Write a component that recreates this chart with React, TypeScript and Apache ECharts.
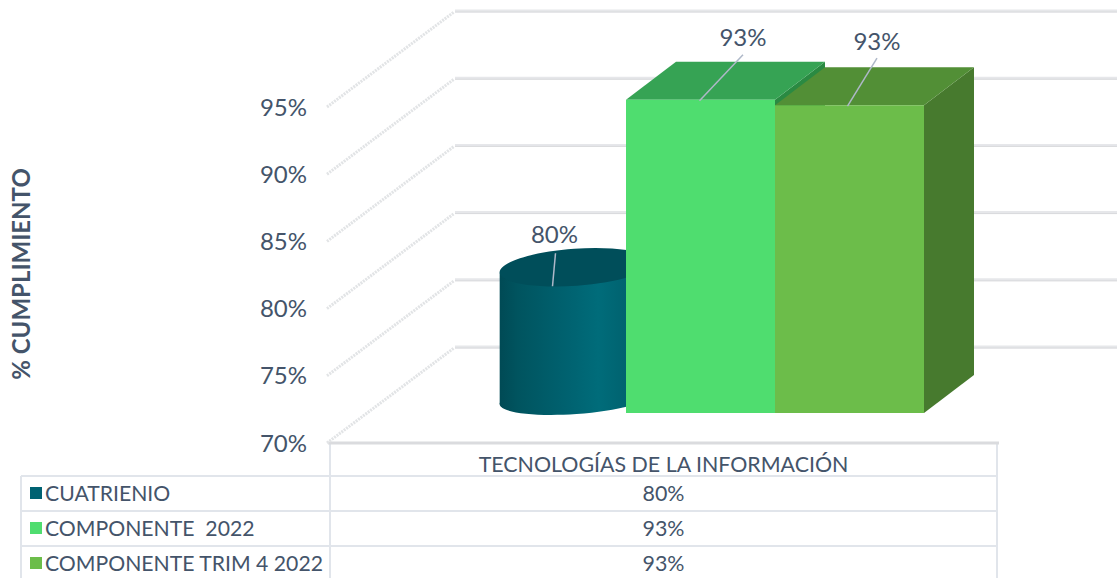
import React, { useEffect, useRef } from "react";
import * as echarts from "echarts";

const categories = ["TECNOLOGÍAS DE LA INFORMACIÓN"];
const seriesNames = ["CUATRIENIO", "COMPONENTE  2022", "COMPONENTE TRIM 4 2022"];
const cuatrienio = [79.8];
const componente2022 = [93.3];
const componenteTrim4 = [92.9];
const yTicks = [70, 75, 80, 85, 90, 95];

const TEXT = "#44546A";
const FONT = "Lato";
const LEGEND_COLORS = ["#006272", "#4FDD6F", "#6CBD4A"];
const W = 1117;
const H = 578;

// 3D projection constants (px)
const WALL_DX = 125;
const WALL_DY = -95;
const FRONT_DX = 37;
const FRONT_DY = -29;
const BOX_W = 149;
const BOX_DX = 50;
const BOX_DY = -38;

const pct = (v: number) => `${Math.round(v)}%`;

function label(text: string, ax: number, ay: number, lx: number, ly: number, topX: number, topY: number) {
  return [
    { type: "line", shape: { x1: topX, y1: topY, x2: ax, y2: ay }, style: { stroke: "#AEB8C8", lineWidth: 1.5 } },
    { type: "text", style: { text, x: lx, y: ly, align: "center", verticalAlign: "middle", fill: TEXT, fontSize: 24, fontFamily: FONT } },
  ];
}

const renderGrid = (_: any, api: any) => {
  const [, y] = api.coord([0, api.value(1)]);
  const bx = grid.left + WALL_DX;
  const by = y + WALL_DY;
  const x0 = grid.left - 3;
  return {
    type: "group",
    children: [
      { type: "line", shape: { x1: x0, y1: y + 1, x2: bx - 1, y2: by + 1 }, style: { stroke: "#E2E4E6", lineWidth: 3, lineDash: [2, 1] } },
      { type: "line", shape: { x1: bx, y1: by, x2: W, y2: by }, style: { stroke: "#E6E7EA", lineWidth: 3 } },
      { type: "line", shape: { x1: bx, y1: by + 1, x2: W, y2: by + 1 }, style: { stroke: "#D9DADD", lineWidth: 1 } },
    ],
  };
};

function boxRender(slot: number, front: string, top: string, side: string, lx: number, ly: number, endDx: number) {
  return (_: any, api: any) => {
    const v = api.value(1);
    const [cx, yTop] = api.coord([0, v]);
    const [, yBase] = api.coord([0, 70]);
    const x0 = cx + FRONT_DX + slot * BOX_W - BOX_W / 2;
    const x1 = x0 + BOX_W;
    const yt = yTop + FRONT_DY;
    const yb = yBase + FRONT_DY;
    const mid = (x0 + x1) / 2;
    return {
      type: "group",
      children: [
        { type: "polygon", shape: { points: [[x1, yt], [x1 + BOX_DX, yt + BOX_DY], [x1 + BOX_DX, yb + BOX_DY], [x1, yb]] }, style: { fill: side } },
        { type: "polygon", shape: { points: [[x0, yt], [x1, yt], [x1 + BOX_DX, yt + BOX_DY], [x0 + BOX_DX, yt + BOX_DY]] }, style: { fill: top } },
        { type: "rect", shape: { x: x0, y: yt, width: BOX_W, height: yb - yt }, style: { fill: front } },
        ...label(pct(v), mid + endDx, yt + 1, mid + lx, yt + ly, mid + lx, yt + ly + 18),
      ],
    };
  };
}

const renderCylinder = (_: any, api: any) => {
  const v = api.value(1);
  const [c, yTop] = api.coord([0, v]);
  const [, yBase] = api.coord([0, 70]);
  const cx = c - BOX_W + FRONT_DX + BOX_DX / 2 - 1;
  const yt = yTop - 43;
  const yb = yBase - 43;
  const rx = 76;
  const rot = 0.07;
  const sx = rx * Math.cos(rot);
  const sy = rx * Math.sin(rot);
  const grad = new echarts.graphic.LinearGradient(0, 0, 1, 0, [
    { offset: 0, color: "#004A55" },
    { offset: 0.12, color: "#00545F" },
    { offset: 0.45, color: "#006270" },
    { offset: 0.65, color: "#006C7A" },
    { offset: 1, color: "#005A66" },
  ]);
  return {
    type: "group",
    children: [
      { type: "ellipse", x: cx, y: yb, rotation: rot, shape: { cx: 0, cy: 0, rx, ry: 15 }, style: { fill: grad } },
      { type: "polygon", shape: { points: [[cx - sx, yt + sy], [cx + sx, yt - sy], [cx + sx, yb - sy], [cx - sx, yb + sy]] }, style: { fill: grad } },
      { type: "ellipse", x: cx, y: yt, rotation: rot, shape: { cx: 0, cy: 0, rx, ry: 18.5 }, style: { fill: "#004E5A" } },
      ...label(pct(v), cx - 23, yt + 19, cx - 21, yt - 34, cx - 20, yt - 14),
    ],
  };
};

const grid = { left: 330, top: 106, right: W - 997, bottom: H - 442 };

const TABLE = { left: 21, col: 330, right: 997, rows: [476, 511, 546], head: 443 };

function tableGraphics() {
  const line = "#E1E5EB";
  const values = [cuatrienio[0], componente2022[0], componenteTrim4[0]];
  const els: any[] = [];
  const add = (x1: number, y1: number, x2: number, y2: number) =>
    els.push({ type: "line", shape: { x1, y1, x2, y2 }, style: { stroke: line, lineWidth: 2 } });
  add(TABLE.col, TABLE.head, TABLE.col, H);
  add(TABLE.right, TABLE.head, TABLE.right, H);
  add(TABLE.left, TABLE.rows[0], TABLE.left, H);
  TABLE.rows.forEach((y) => add(TABLE.left, y, TABLE.right, y));
  els.push({ type: "line", shape: { x1: TABLE.col - 2, y1: TABLE.head, x2: TABLE.right + 2, y2: TABLE.head }, style: { stroke: "#DADBDE", lineWidth: 3 } });
  seriesNames.forEach((name, i) => {
    const r = TABLE.rows[i];
    els.push({ type: "rect", shape: { x: 30, y: r + 11, width: 12, height: 12 }, style: { fill: LEGEND_COLORS[i] } });
    els.push({ type: "text", style: { text: name, x: 45, y: r + 17, verticalAlign: "middle", fill: TEXT, fontSize: 21.2, fontFamily: FONT } });
    els.push({ type: "text", style: { text: pct(values[i]), x: (TABLE.col + TABLE.right) / 2, y: r + 17, align: "center", verticalAlign: "middle", fill: TEXT, fontSize: 21.4, fontFamily: FONT } });
  });
  return els;
}

export default function App() {
  const ref = useRef<HTMLDivElement>(null);
  useEffect(() => {
    document.body.style.margin = "0";
    const chart = echarts.init(ref.current!, null, { renderer: "svg" });
    chart.setOption({
      animation: false,
      backgroundColor: "#fff",
      grid,
      xAxis: {
        type: "category",
        data: categories,
        axisLine: { show: false },
        axisTick: { show: false },
        axisLabel: { color: TEXT, fontSize: 21.4, fontFamily: FONT, margin: 11 },
      },
      yAxis: {
        type: "value",
        min: 70,
        max: 95,
        interval: 5,
        name: "% CUMPLIMIENTO",
        nameLocation: "middle",
        nameGap: 298,
        nameRotate: 90,
        nameTextStyle: { color: TEXT, fontSize: 24, fontWeight: "bold", fontFamily: FONT },
        axisLine: { show: false },
        axisTick: { show: false },
        splitLine: { show: false },
        axisLabel: { color: TEXT, fontSize: 24, fontFamily: FONT, margin: 23, padding: [2, 0, 0, 0], formatter: "{value}%" },
      },
      graphic: tableGraphics(),
      series: [
        { type: "custom", name: "grid", silent: true, clip: false, z: 1, renderItem: renderGrid, encode: { x: 0, y: 1 }, data: yTicks.map((t) => [0, t]) },
        { type: "custom", name: seriesNames[0], clip: false, z: 2, renderItem: renderCylinder, encode: { x: 0, y: 1 }, data: cuatrienio.map((v, i) => [i, v]) },
        { type: "custom", name: seriesNames[1], clip: false, z: 3, renderItem: boxRender(0, "#4FDD6F", "#36A354", "#2A8A42", 42.5, -63, -1), encode: { x: 0, y: 1 }, data: componente2022.map((v, i) => [i, v]) },
        { type: "custom", name: seriesNames[2], clip: false, z: 4, renderItem: boxRender(1, "#6CBD4A", "#528F36", "#477A2E", 27.5, -65, -2), encode: { x: 0, y: 1 }, data: componenteTrim4.map((v, i) => [i, v]) },
      ],
    });
    return () => chart.dispose();
  }, []);
  return <div ref={ref} style={{ position: "fixed", left: 0, top: 0, width: W, height: H }} />;
}
